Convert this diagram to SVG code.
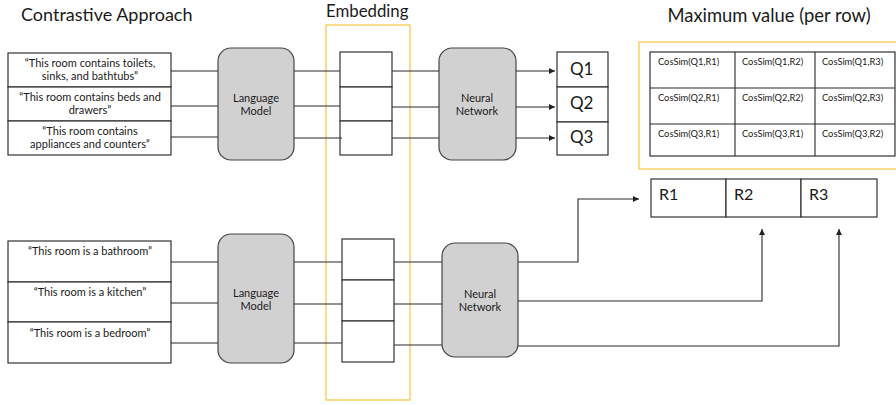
<svg xmlns="http://www.w3.org/2000/svg" width="896" height="405" viewBox="0 0 896 405">
<defs>
<marker id="arr" viewBox="0 0 10 10" refX="10" refY="5" markerWidth="6" markerHeight="6" markerUnits="userSpaceOnUse" orient="auto">
<path d="M0,0 L10,5 L0,10 z" fill="#222"/>
</marker>
<style>
text{font-family:Lato,"Open Sans","Liberation Sans",sans-serif;fill:#1a1a1a}
.box{fill:#fff;stroke:#333;stroke-width:1.2}
.proc{fill:#d2d1d2;stroke:#444;stroke-width:1.2}
.yel{fill:none;stroke:#f7d266;stroke-width:1.5}
.ln{fill:none;stroke:#2a2a2a;stroke-width:1.1}
.t10{font-size:11px;text-anchor:middle}
.t9{font-size:11px;text-anchor:middle}
.cell{font-size:9.3px}
.q{font-size:17px}
.r{font-size:16px}
.title{font-size:18px}
</style>
</defs>
<rect width="896" height="405" fill="#fff"/>

<text class="title" x="21" y="21">Contrastive Approach</text>
<text x="326" y="17" style="font-size:16.8px">Embedding</text>
<text x="769" y="22" style="font-size:18.4px;text-anchor:middle">Maximum value (per row)</text>

<g id="emb-frame"><rect class="yel" x="326" y="25" width="84" height="375"/></g>
<g id="table-frame"><rect class="yel" x="639" y="42" width="262" height="127"/></g>

<g id="queries-text">
<rect class="box" x="8" y="53" width="163" height="34"/>
<rect class="box" x="8" y="87" width="163" height="34"/>
<rect class="box" x="8" y="121" width="163" height="34"/>
<text class="t10" x="90" y="67">“This room contains toilets,</text>
<text class="t10" x="90" y="80">sinks, and bathtubs”</text>
<text class="t10" x="90" y="101">“This room contains beds and</text>
<text class="t10" x="90" y="114">drawers”</text>
<text class="t10" x="90" y="135">“This room contains</text>
<text class="t10" x="90" y="148">appliances and counters”</text>
</g>

<g id="lm-top"><rect class="proc" x="218" y="48" width="76" height="112" rx="13"/>
<text class="t10" x="256" y="102">Language</text><text class="t10" x="256" y="115">Model</text></g>

<g id="emb-top">
<rect class="box" x="340" y="52" width="52" height="35"/>
<rect class="box" x="340" y="87" width="52" height="34"/>
<rect class="box" x="340" y="121" width="52" height="34"/>
</g>

<g id="nn-top"><rect class="proc" x="439" y="48" width="77" height="112" rx="13"/>
<text class="t9" x="477" y="102">Neural</text><text class="t9" x="477" y="115">Network</text></g>

<g id="q-boxes">
<rect class="box" x="557" y="52" width="51" height="35"/>
<rect class="box" x="557" y="87" width="51" height="35"/>
<rect class="box" x="557" y="122" width="51" height="33"/>
<text class="q" x="570" y="75">Q1</text>
<text class="q" x="570" y="109">Q2</text>
<text class="q" x="570" y="143">Q3</text>
</g>

<g id="table">
<rect class="box" x="650" y="52" width="245" height="104"/>
<path class="ln" d="M735,52V156M815,52V156M650,88H895M650,124H895"/>
<text class="cell" x="658" y="65">CosSim(Q1,R1)</text>
<text class="cell" x="742" y="65">CosSim(Q1,R2)</text>
<text class="cell" x="822" y="65">CosSim(Q1,R3)</text>
<text class="cell" x="658" y="101">CosSim(Q2,R1)</text>
<text class="cell" x="742" y="101">CosSim(Q2,R2)</text>
<text class="cell" x="822" y="101">CosSim(Q2,R3)</text>
<text class="cell" x="658" y="137">CosSim(Q3,R1)</text>
<text class="cell" x="742" y="137">CosSim(Q3,R1)</text>
<text class="cell" x="822" y="137">CosSim(Q3,R2)</text>
</g>

<g id="r-boxes">
<rect class="box" x="651" y="179" width="75" height="38"/>
<rect class="box" x="726" y="179" width="75" height="38"/>
<rect class="box" x="801" y="179" width="76" height="38"/>
<text class="r" x="659" y="200">R1</text>
<text class="r" x="734" y="200">R2</text>
<text class="r" x="809" y="200">R3</text>
</g>

<g id="rooms-text">
<rect class="box" x="8" y="241" width="163" height="41"/>
<rect class="box" x="8" y="282" width="163" height="40"/>
<rect class="box" x="8" y="322" width="163" height="41"/>
<text class="t10" x="90" y="255">“This room is a bathroom”</text>
<text class="t10" x="90" y="296">“This room is a kitchen”</text>
<text class="t10" x="90" y="337">“This room is a bedroom”</text>
</g>

<g id="lm-bottom"><rect class="proc" x="218" y="234" width="76" height="129" rx="13"/>
<text class="t10" x="256" y="297">Language</text><text class="t10" x="256" y="310">Model</text></g>

<g id="emb-bottom">
<rect class="box" x="342" y="239" width="52" height="41"/>
<rect class="box" x="342" y="280" width="52" height="41"/>
<rect class="box" x="342" y="321" width="52" height="41"/>
</g>

<g id="nn-bottom"><rect class="proc" x="442" y="243" width="76" height="114" rx="13"/>
<text class="t9" x="480" y="298">Neural</text><text class="t9" x="480" y="311">Network</text></g>

<g id="connectors">
<path class="ln" d="M171,71H218M171,106H218M171,137H218"/>
<path class="ln" d="M294,71H340M294,106H340M294,138H342"/>
<path class="ln" d="M392,71H439M392,107H439M392,138H439"/>
<path class="ln" d="M516,71H555" marker-end="url(#arr)"/>
<path class="ln" d="M516,107H555" marker-end="url(#arr)"/>
<path class="ln" d="M516,138H555" marker-end="url(#arr)"/>
<path class="ln" d="M171,262H218M171,303H218M171,343H218"/>
<path class="ln" d="M294,262H342M294,304H342M294,343H342"/>
<path class="ln" d="M394,262H442M394,304H442M394,345H442"/>
<path class="ln" d="M518,262H578V199H639" marker-end="url(#arr)"/>
<path class="ln" d="M518,301H762V229" marker-end="url(#arr)"/>
<path class="ln" d="M518,346H839V229" marker-end="url(#arr)"/>
</g>
</svg>
